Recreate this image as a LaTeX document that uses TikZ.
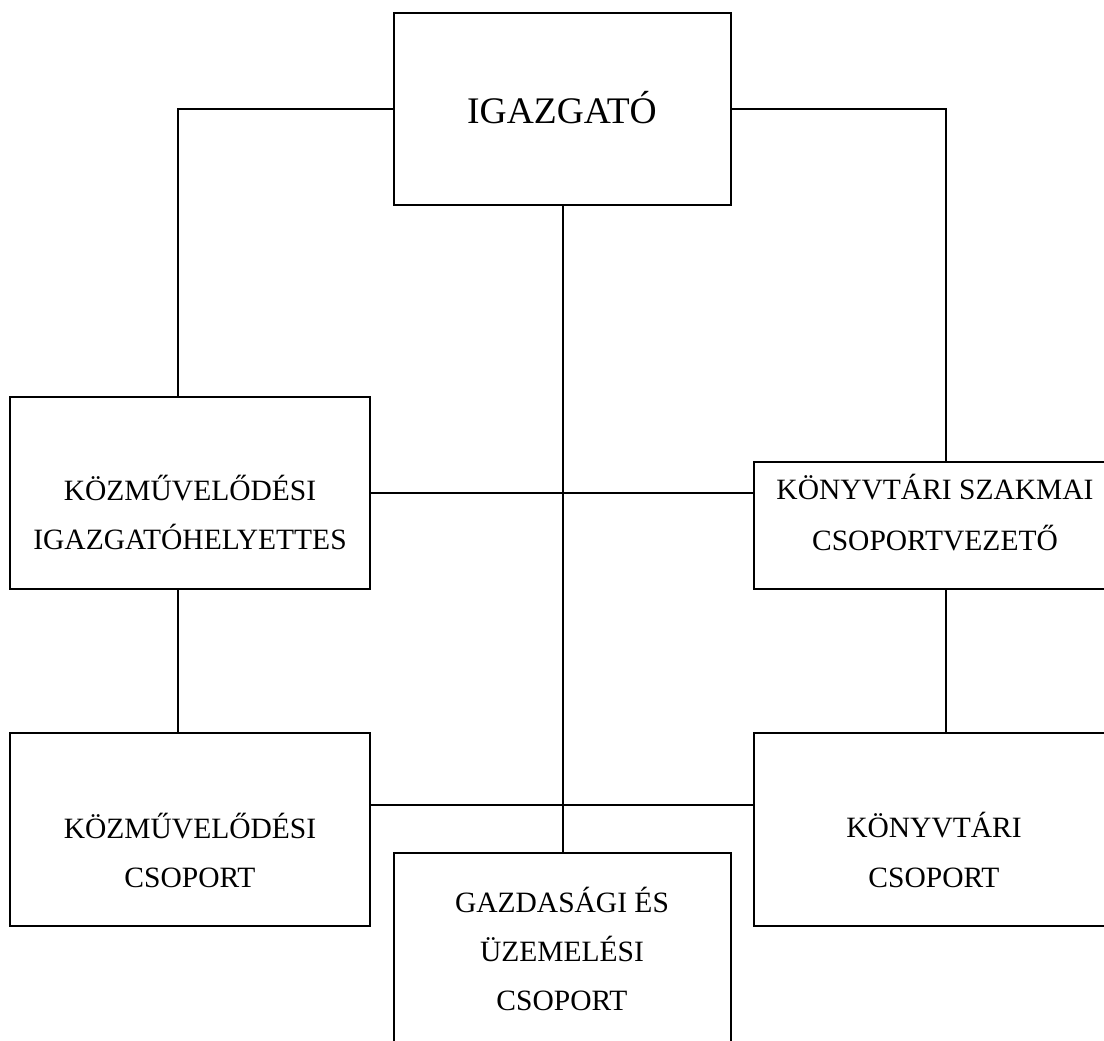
\documentclass[tikz,border=0pt]{standalone}
\usepackage{fontspec}
\setmainfont{Liberation Serif}
\begin{document}
\begin{tikzpicture}[x=1pt,y=1pt,
  box/.style={draw,line width=1.2pt,rectangle,inner sep=0pt,outer sep=0pt,fill=white},
  conn/.style={line width=1.2pt},
  txt/.style={anchor=base,inner sep=0pt,font=\fontsize{29.5}{35}\selectfont},
  ttl/.style={anchor=base,inner sep=0pt,font=\fontsize{37.5}{44}\selectfont}]
\useasboundingbox (0,0) rectangle (1104,-1041);
\clip (0,0) rectangle (1104,-1041);
\fill[white] (0,0) rectangle (1104,-1041);
% boxes
\node[box,minimum width=337pt,minimum height=192pt] (ig) at (562.5,-109) {};
\node[box,minimum width=360pt,minimum height=192pt] (kigh) at (190,-493) {};
\node[box,minimum width=362pt,minimum height=127pt] (ksz) at (935,-525.5) {};
\node[box,minimum width=360pt,minimum height=193pt] (kcs) at (190,-829.5) {};
\node[box,minimum width=362pt,minimum height=193pt] (kkcs) at (935,-829.5) {};
\node[box,minimum width=337pt,minimum height=207pt] (gazd) at (562.5,-956.5) {};
% connectors
\draw[conn] (ig.west) -| ([xshift=-12pt]kigh.north);
\draw[conn] (ig.east) -| ([xshift=11pt]ksz.north);
\draw[conn] (kigh.east) -- (kigh.east -| ksz.west);
\draw[conn] ([xshift=-12pt]kigh.south) -- ([xshift=-12pt]kcs.north);
\draw[conn] ([xshift=11pt]ksz.south) -- ([xshift=11pt]kkcs.north);
\draw[conn] ([yshift=24.5pt]kcs.east) -- ([yshift=24.5pt]kkcs.west);
\draw[conn] ([xshift=0.5pt]ig.south) -- ([xshift=0.5pt]gazd.north);
% texts
\node[ttl] (t0) at (562,-124) {IGAZGATÓ};
\node[txt] (t1a) at (190,-500) {KÖZMŰVELŐDÉSI};
\node[txt] (t1b) at (190,-549) {IGAZGATÓHELYETTES};
\node[txt] (t2a) at (935,-499) {KÖNYVTÁRI SZAKMAI};
\node[txt] (t2b) at (935,-550) {CSOPORTVEZETŐ};
\node[txt] (t3a) at (190,-838) {KÖZMŰVELŐDÉSI};
\node[txt] (t3b) at (190,-887) {CSOPORT};
\node[txt] (t4a) at (934,-837) {KÖNYVTÁRI};
\node[txt] (t4b) at (934,-887) {CSOPORT};
\node[txt] (t5a) at (562,-912) {GAZDASÁGI ÉS};
\node[txt] (t5b) at (562,-961) {ÜZEMELÉSI};
\node[txt] (t5c) at (562,-1010) {CSOPORT};
\end{tikzpicture}
\end{document}
